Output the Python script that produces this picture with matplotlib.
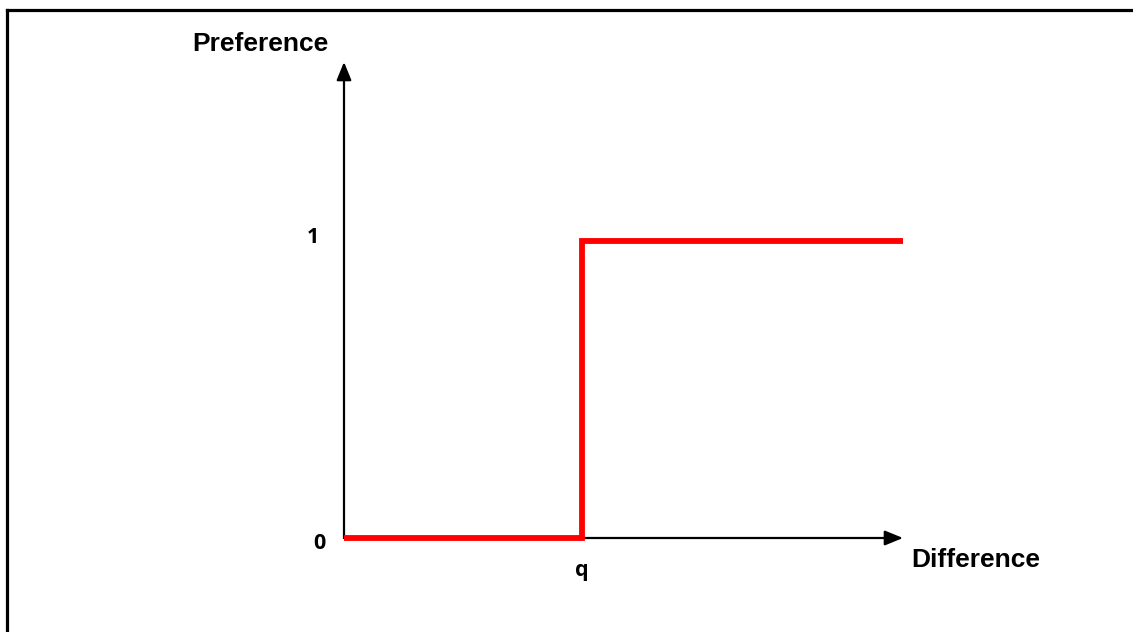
import matplotlib.pyplot as plt

# usual threshold ("q") preference function
difference = [0, 1, 1, 2.35]
preference = [0, 0, 1, 1]
q_value = 1
x_max = 2.35
y_max = 1.6
tick_labels = {'y': ['0', '1'], 'x': ['q']}

W, H = 1133, 632
fig = plt.figure(figsize=(W / 100, H / 100), dpi=100)

# frame line only on top and left (the rest is cut off in the original)
fig.add_artist(plt.Line2D([7 / W, 1], [1 - 10 / H, 1 - 10 / H], color='black', lw=2.3))
fig.add_artist(plt.Line2D([7 / W, 7 / W], [0, 1 - 10 / H], color='black', lw=2.3))

ax = fig.add_axes([344 / W, 94 / H, 559 / W, 476 / H])
ax.set_xlim(0, x_max)
ax.set_ylim(0, y_max)
ax.axis('off')

# axes with arrow heads
arrow = dict(arrowstyle='-|>,head_length=1.1,head_width=0.45', color='black', lw=1.6, shrinkA=0, shrinkB=0)
ax.annotate('', xy=(x_max, 0), xytext=(0, 0), arrowprops=arrow, annotation_clip=False)
ax.annotate('', xy=(0, y_max), xytext=(0, 0), arrowprops=arrow, annotation_clip=False)

ax.plot(difference, preference, color='red', lw=4.2, solid_joinstyle='miter',
        solid_capstyle='butt', clip_on=False, zorder=3)

bold_a = dict(family=['Liberation Sans', 'DejaVu Sans'], weight='bold', fontsize=19)
bold_c = dict(family=['Open Sans', 'DejaVu Sans'], weight='bold', fontsize=15.5)

ax.text(-0.353, 1.66, 'Preference', ha='center', va='center', **bold_a)
ax.text(x_max + 0.035, -0.075, 'Difference', ha='left', va='center', **bold_a)
ax.text(-0.13, 1.01, tick_labels['y'][1], ha='center', va='center', **bold_c)
ax.text(-0.105, -0.02, tick_labels['y'][0], ha='center', va='center', **bold_c)
ax.text(q_value, -0.11, tick_labels['x'][0], ha='center', va='center', **bold_c)

fig.savefig('out.png', dpi=100)
